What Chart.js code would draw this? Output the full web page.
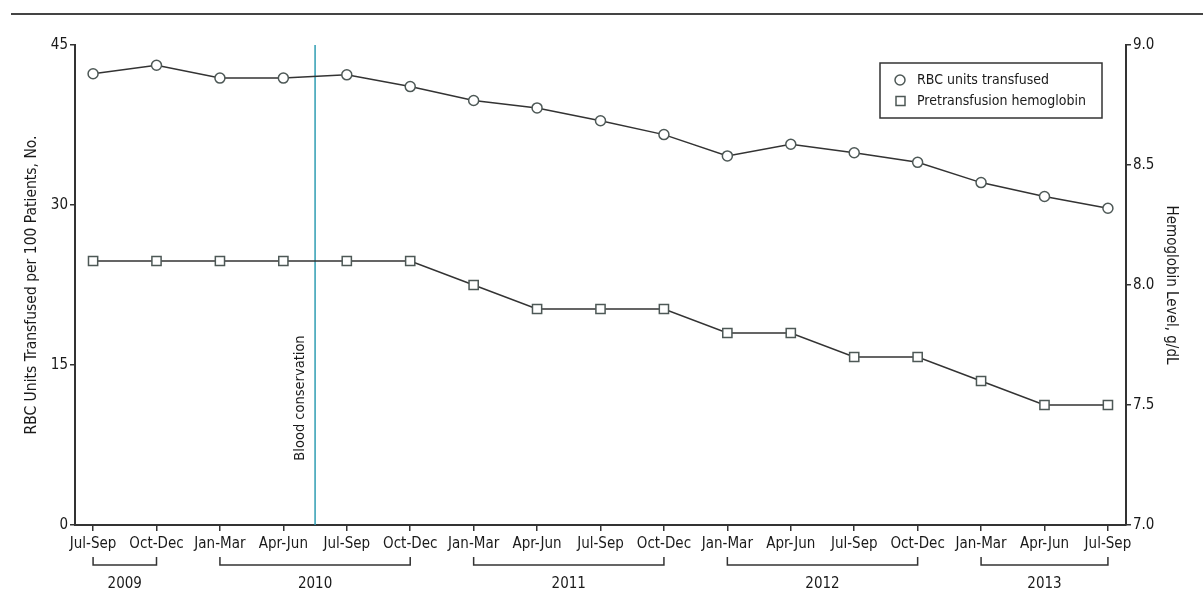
<!DOCTYPE html>
<html>
<head>
<meta charset="utf-8">
<script src="https://cdn.jsdelivr.net/npm/chart.js@4.4.1/dist/chart.umd.min.js"></script>
<style>
  html, body { margin: 0; padding: 0; background: #fff; }
  #wrap { width: 1203px; height: 606px; }
</style>
</head>
<body>
<div id="wrap"><canvas id="chart" width="1203" height="606"></canvas></div>
<script>
// quarters on the x axis, 2009 Q3 to 2013 Q3
const quarters = ['Jul-Sep', 'Oct-Dec', 'Jan-Mar', 'Apr-Jun', 'Jul-Sep', 'Oct-Dec', 'Jan-Mar', 'Apr-Jun',
                  'Jul-Sep', 'Oct-Dec', 'Jan-Mar', 'Apr-Jun', 'Jul-Sep', 'Oct-Dec', 'Jan-Mar', 'Apr-Jun', 'Jul-Sep'];
const rbcUnits = [42.3, 43.1, 41.9, 41.9, 42.2, 41.1, 39.8, 39.1, 37.9, 36.6, 34.6, 35.7, 34.9, 34.0, 32.1, 30.8, 29.7];
const hemoglobin = [8.1, 8.1, 8.1, 8.1, 8.1, 8.1, 8.0, 7.9, 7.9, 7.9, 7.8, 7.8, 7.7, 7.7, 7.6, 7.5, 7.5];

// year brackets under the quarter labels
const years = ['2009', '2010', '2011', '2012', '2013'];
const yearFirstQuarter = [0, 2, 6, 10, 14];
const yearLastQuarter = [1, 5, 9, 13, 16];

const leftTicks = [0, 15, 30, 45];
const rightTicks = [7.0, 7.5, 8.0, 8.5, 9.0];

const interventionAt = 3.5; // between Apr-Jun and Jul-Sep 2010
const interventionLabel = 'Blood conservation';

const FONT = "'DejaVu Sans Condensed', 'Liberation Sans Narrow', sans-serif";
const INK = '#333';
const TEXT = '#1a1a1a';
const MARK = '#4d5856';

const toPoints = arr => arr.map((v, i) => ({ x: i, y: v }));

// top rule, year brackets, intervention line and the boxed legend
const extras = {
    id: 'extras',
    beforeDraw(chart) {
        const ctx = chart.ctx;
        ctx.save();
        ctx.strokeStyle = '#444';
        ctx.lineWidth = 2;
        ctx.beginPath();
        ctx.moveTo(11, 14);
        ctx.lineTo(chart.width, 14);
        ctx.stroke();
        ctx.restore();
    },
    beforeDatasetsDraw(chart) {
        const ctx = chart.ctx;
        const x = chart.scales.x.getPixelForValue(interventionAt);
        const area = chart.chartArea;
        ctx.save();
        ctx.strokeStyle = '#2f9db3';
        ctx.lineWidth = 1.5;
        ctx.beginPath();
        ctx.moveTo(x, area.top);
        ctx.lineTo(x, area.bottom);
        ctx.stroke();
        ctx.translate(x - 15, 398);
        ctx.rotate(-Math.PI / 2);
        ctx.fillStyle = TEXT;
        ctx.font = '14.5px ' + FONT;
        ctx.textAlign = 'center';
        ctx.textBaseline = 'middle';
        ctx.fillText(interventionLabel, 0, 0);
        ctx.restore();
    },
    afterDraw(chart) {
        const ctx = chart.ctx;
        const xs = chart.scales.x;
        ctx.save();
        ctx.strokeStyle = INK;
        ctx.lineWidth = 1.5;
        ctx.fillStyle = TEXT;
        ctx.font = '15px ' + FONT;
        ctx.textAlign = 'center';
        ctx.textBaseline = 'middle';
        years.forEach((yr, i) => {
            const x0 = xs.getPixelForValue(yearFirstQuarter[i]);
            const x1 = xs.getPixelForValue(yearLastQuarter[i]);
            ctx.beginPath();
            ctx.moveTo(x0, 557);
            ctx.lineTo(x0, 565);
            ctx.lineTo(x1, 565);
            ctx.lineTo(x1, 557);
            ctx.stroke();
            ctx.fillText(yr, (x0 + x1) / 2, 584);
        });

        // legend box
        ctx.lineWidth = 1.5;
        ctx.strokeRect(880, 63, 222, 55);
        ctx.textAlign = 'left';
        ctx.font = '14px ' + FONT;
        chart.data.datasets.forEach((ds, i) => {
            const y = 80 + i * 21;
            ctx.strokeStyle = MARK;
            ctx.fillStyle = '#fff';
            ctx.beginPath();
            if (ds.pointStyle === 'rect') {
                ctx.rect(896, y - 4.5, 9, 9);
            } else {
                ctx.arc(900, y, 5, 0, Math.PI * 2);
            }
            ctx.fill();
            ctx.stroke();
            ctx.fillStyle = TEXT;
            ctx.fillText(ds.label, 917, y);
        });
        ctx.restore();
    }
};

new Chart(document.getElementById('chart'), {
    type: 'line',
    data: {
        datasets: [{
            label: 'RBC units transfused',
            data: toPoints(rbcUnits),
            yAxisID: 'y',
            borderColor: INK,
            borderWidth: 1.5,
            pointStyle: 'circle',
            pointRadius: 5,
            pointBorderWidth: 1.5,
            pointBorderColor: MARK,
            pointBackgroundColor: '#fff'
        }, {
            label: 'Pretransfusion hemoglobin',
            data: toPoints(hemoglobin),
            yAxisID: 'y1',
            borderColor: INK,
            borderWidth: 1.5,
            pointStyle: 'rect',
            pointRadius: 6.5,
            pointBorderWidth: 1.5,
            pointBorderColor: MARK,
            pointBackgroundColor: '#fff'
        }]
    },
    options: {
        responsive: false,
        animation: false,
        maintainAspectRatio: false,
        layout: { padding: { top: 45, left: 0, right: 0, bottom: 0 } },
        plugins: { legend: { display: false }, tooltip: { enabled: false } },
        scales: {
            x: {
                type: 'linear',
                min: -0.285,
                max: 16.285,
                afterBuildTicks: s => { s.ticks = quarters.map((q, i) => ({ value: i })); },
                afterFit: s => { s.height = 81; },
                grid: { drawOnChartArea: false, tickLength: 6, color: INK, lineWidth: 1.5 },
                border: { color: INK, width: 2 },
                ticks: {
                    autoSkip: false, maxRotation: 0, padding: 4, color: TEXT,
                    font: { family: FONT, size: 15 },
                    callback: v => quarters[v]
                }
            },
            y: {
                position: 'left',
                min: 0,
                max: 45,
                afterBuildTicks: s => { s.ticks = leftTicks.map(v => ({ value: v })); },
                afterFit: s => { s.width = 75; },
                grid: { drawOnChartArea: false, tickLength: 5, color: INK, lineWidth: 1.5 },
                border: { color: INK, width: 2 },
                ticks: { padding: 2, color: TEXT, font: { family: FONT, size: 15 } },
                title: {
                    display: true,
                    text: 'RBC Units Transfused per 100 Patients, No.',
                    color: TEXT,
                    font: { family: FONT, size: 15.5 },
                    padding: { top: 23, bottom: 0 }
                }
            },
            y1: {
                position: 'right',
                min: 7,
                max: 9,
                afterBuildTicks: s => { s.ticks = rightTicks.map(v => ({ value: v })); },
                afterFit: s => { s.width = 77; },
                grid: { drawOnChartArea: false, tickLength: 5, color: INK, lineWidth: 1.5 },
                border: { color: INK, width: 2 },
                ticks: {
                    padding: 2, color: TEXT, font: { family: FONT, size: 15 },
                    callback: v => v.toFixed(1)
                },
                title: {
                    display: true,
                    text: 'Hemoglobin Level, g/dL',
                    color: TEXT,
                    font: { family: FONT, size: 15 },
                    padding: { top: 23, bottom: 0 }
                }
            }
        }
    },
    plugins: [extras]
});
</script>
</body>
</html>
